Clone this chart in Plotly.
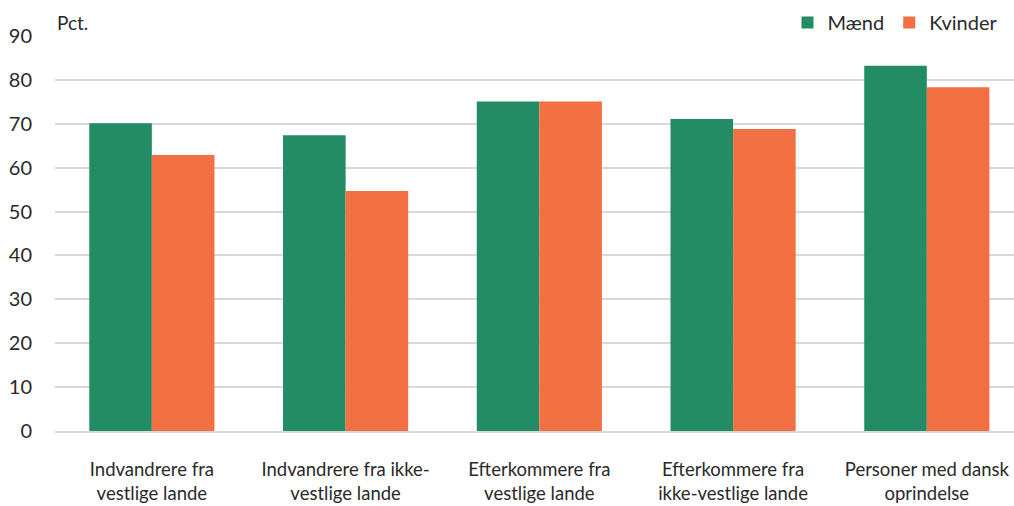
import plotly.graph_objects as go

categories = ["Indvandrere fra<br>vestlige lande", "Indvandrere fra ikke-<br>vestlige lande",
              "Efterkommere fra<br>vestlige lande", "Efterkommere fra<br>ikke-vestlige lande",
              "Personer med dansk<br>oprindelse"]
maend = [70.1, 67.4, 75.1, 71.1, 83.2]
kvinder = [62.9, 54.7, 75.1, 68.8, 78.3]
yticks = [0, 10, 20, 30, 40, 50, 60, 70, 80, 90]

FONT = "Lato"
fig = go.Figure()
fig.add_trace(go.Bar(x=categories, y=maend, name="Mænd", marker_color="#238C64", marker_line_width=0))
fig.add_trace(go.Bar(x=categories, y=kvinder, name="Kvinder", marker_color="#F37043", marker_line_width=0))

fig.update_layout(
    width=1014, height=506,
    margin=dict(l=55, r=0, t=36, b=75, autoexpand=False),
    barmode="group", bargap=0.354, bargroupgap=0,
    plot_bgcolor="white", paper_bgcolor="white",
    font=dict(family=FONT, size=19, color="#2a2a2a"),
    legend=dict(orientation="h", x=0.988, xanchor="right", y=0.985, yanchor="bottom",
                font=dict(size=20), itemwidth=30, traceorder="normal"),
    yaxis=dict(range=[0, 90], tickvals=yticks, showgrid=True, gridcolor="#D9D9D9", gridwidth=2,
               zeroline=False, showline=False, ticks="", tickfont=dict(size=20), ticklabelstandoff=22),
    xaxis=dict(range=[-0.5, 4.45], showline=True, linecolor="#D9D9D9", linewidth=2, ticks="",
               tickfont=dict(size=18.5), ticklabelstandoff=21),
    annotations=[dict(text="Pct.", xref="paper", yref="paper", x=0, y=1.0, xanchor="left",
                      yanchor="bottom", showarrow=False, font=dict(size=19), yshift=0)],
)
fig.write_html("out.html", config={"displayModeBar": False},
               post_script="document.body.style.margin='0';document.body.style.overflow='hidden';")
